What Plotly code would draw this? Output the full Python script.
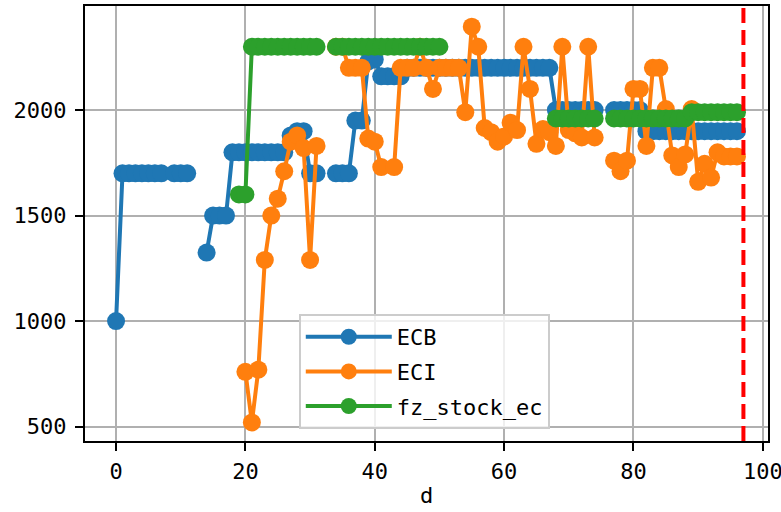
import plotly.graph_objects as go

N = None
d = list(range(97))

ECB = ([1000] + [1700]*7 + [N] + [1700]*3 + [N, N] + [1325] + [1500]*3 + [1800]*9
       + [1880, 1900, 1900] + [1700]*2 + [N, N] + [1700]*3 + [1950]*2 + [2230, 2240]
       + [2160]*4 + [2200]*23 + [2000]*7 + [N, N] + [2000]*5 + [1900]*15)

ECI = ([N]*20 + [760, 520, 770, 1290, 1500, 1580, 1710, 1850, 1880, 1820, 1290, 1830]
       + [N, N] + [2300, 2300] + [2200]*3 + [1865, 1850, 1730, N, 1730]
       + [2200]*3 + [2300, 2200, 2100] + [2200]*4
       + [1990, 2395, 2300, 1915, 1895, 1850, 1875, 1940, 1905, 2300, 2100,
          1840, 1910, 1895, 1830, 2300, 1905, 1890, 1870, 2300, 1870]
       + [N, N]
       + [1760, 1710, 1760, 2100, 2100, 1830, 2200, 2200, 2005, 1785, 1730, 1790,
          2005, 1660, 1745, 1680, 1800, 1780, 1780, 1780])

FZ = ([N]*19 + [1600]*2 + [2300]*11 + [N, N] + [2300]*17 + [N]*17
      + [1960]*7 + [N, N] + [1960]*12 + [1990]*8)

SERIES = [("ECB", ECB, "#1f77b4"), ("ECI", ECI, "#ff7f0e"), ("fz_stock_ec", FZ, "#2ca02c")]
VLINE_X = 97
X_TICKS = [0, 20, 40, 60, 80, 100]
Y_TICKS = [500, 1000, 1500, 2000]

FONT = "DejaVu Sans Mono"

fig = go.Figure()
for name, vals, col in SERIES:
    fig.add_trace(go.Scatter(
        x=d, y=vals, name=name, mode="lines+markers", legendgroup=name,
        line=dict(color=col, width=4),
        marker=dict(color=col, size=18, line=dict(width=0)),
        connectgaps=False,
    ))

fig.add_vline(x=VLINE_X, line=dict(color="#ff0000", width=4, dash="15px,7px"), layer="above")

axis_common = dict(
    showline=True, linecolor="black", linewidth=2, mirror=True,
    ticks="outside", ticklen=8, tickwidth=2, tickcolor="black",
    showgrid=True, gridcolor="#b0b0b0", gridwidth=2, zeroline=False,
    tickfont=dict(family=FONT, size=22, color="black"),
    automargin=False, ticklabeloverflow="allow",
)

fig.update_xaxes(range=[-4.8, 100.8], tickvals=X_TICKS, ticklabelstandoff=2,
                 title=dict(text="d", font=dict(family=FONT, size=22, color="black"), standoff=4),
                 **axis_common)
fig.update_yaxes(range=[432, 2493], tickvals=Y_TICKS, ticklabelstandoff=4, **axis_common)

fig.update_layout(
    width=781, height=512,
    margin=dict(l=85, r=13, t=6, b=71),
    plot_bgcolor="white", paper_bgcolor="white",
    font=dict(family=FONT, size=22, color="black"),
    legend=dict(
        x=0.313, y=0.292, xanchor="left", yanchor="top",
        bgcolor="rgba(255,255,255,0.8)", bordercolor="#cccccc", borderwidth=2,
        font=dict(family=FONT, size=22, color="black"),
        itemwidth=86, tracegroupgap=3,
    ),
)

fig.write_html("out.html", config={"displayModeBar": False},
               post_script="document.body.style.margin='0';document.body.style.overflow='hidden';")
